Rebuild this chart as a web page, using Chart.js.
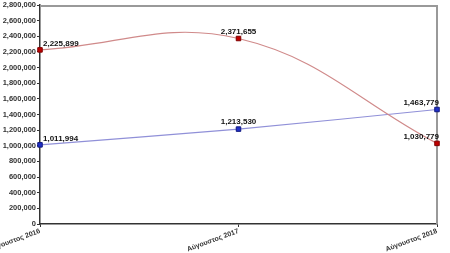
<!DOCTYPE html>
<html>
<head>
<meta charset="utf-8">
<script src="https://cdn.jsdelivr.net/npm/chart.js@4"></script>
<style>
    html, body { margin: 0; padding: 0; background: #fff; }
    #wrap { width: 450px; height: 253px; }
</style>
</head>
<body>
<div id="wrap"><canvas id="chart" width="450" height="253"></canvas></div>
<script>
const months = ['Αύγουστος 2016', 'Αύγουστος 2017', 'Αύγουστος 2018'];
const redValues = [2225899, 2371655, 1030779];
const blueValues = [1011994, 1213530, 1463779];

const yFont = { family: 'Liberation Sans, Arial', size: 7.5, weight: 'bold' };
const xFont = { family: 'Liberation Sans, Arial', size: 7, weight: 'bold' };

// value labels next to each point
const pointLabels = {
    id: 'pointLabels',
    afterDatasetsDraw(chart) {
        const ctx = chart.ctx;
        ctx.save();
        ctx.font = 'bold 8px "Liberation Sans", Arial';
        ctx.fillStyle = '#111';
        ctx.textBaseline = 'bottom';
        chart.data.datasets.forEach((ds, di) => {
            const meta = chart.getDatasetMeta(di);
            meta.data.forEach((pt, i) => {
                const text = ds.data[i].toLocaleString('en-US');
                if (i === 0) {
                    ctx.textAlign = 'left';
                    ctx.fillText(text, pt.x + 3, pt.y - 2);
                } else if (i === ds.data.length - 1) {
                    ctx.textAlign = 'right';
                    ctx.fillText(text, pt.x + 2, pt.y - 3);
                } else {
                    ctx.textAlign = 'center';
                    ctx.fillText(text, pt.x, pt.y - 3);
                }
            });
        });
        ctx.restore();
    }
};

// grey frame on top and right
const frame = {
    id: 'frame',
    beforeDatasetsDraw(chart) {
        const a = chart.chartArea;
        const ctx = chart.ctx;
        ctx.save();
        ctx.strokeStyle = '#999';
        ctx.lineWidth = 2;
        ctx.beginPath();
        ctx.moveTo(a.left, a.top + 1);
        ctx.lineTo(a.right, a.top + 1);
        ctx.lineTo(a.right, a.bottom);
        ctx.stroke();
        ctx.restore();
    }
};

new Chart(document.getElementById('chart'), {
    type: 'line',
    data: {
        labels: months,
        datasets: [
            {
                data: redValues,
                borderColor: '#d08a8a',
                borderWidth: 1.2,
                tension: 0.4,
                pointStyle: 'rect',
                pointRadius: 3.2,
                pointBackgroundColor: '#c00000',
                pointBorderColor: '#800000',
                pointBorderWidth: 1
            },
            {
                data: blueValues,
                borderColor: '#9090d8',
                borderWidth: 1.2,
                tension: 0.3,
                pointStyle: 'rect',
                pointRadius: 3.2,
                pointBackgroundColor: '#2030c8',
                pointBorderColor: '#101880',
                pointBorderWidth: 1
            }
        ]
    },
    options: {
        responsive: false,
        animation: false,
        layout: { padding: { top: 0, right: 13, left: 0, bottom: 0 } },
        plugins: { legend: { display: false }, tooltip: { enabled: false } },
        scales: {
            x: {
                offset: false,
                afterFit(scale) {
                    scale.height = 29;
                    scale.paddingLeft = 0;
                    scale.paddingRight = 0;
                },
                grid: { drawOnChartArea: false, tickLength: 3, color: '#333' },
                border: { color: '#333', width: 1.5 },
                ticks: {
                    font: xFont,
                    color: '#333',
                    minRotation: 20,
                    maxRotation: 20,
                    padding: 0
                }
            },
            y: {
                min: 0,
                max: 2800000,
                afterFit(scale) {
                    scale.width = 40;
                    scale.paddingTop = 0;
                    scale.paddingBottom = 0;
                },
                grid: { drawOnChartArea: false, tickLength: 3, color: '#333' },
                border: { color: '#333', width: 1.5 },
                ticks: {
                    stepSize: 200000,
                    font: yFont,
                    color: '#333',
                    padding: 1,
                    callback: v => v.toLocaleString('en-US')
                }
            }
        }
    },
    plugins: [frame, pointLabels]
});
</script>
</body>
</html>
